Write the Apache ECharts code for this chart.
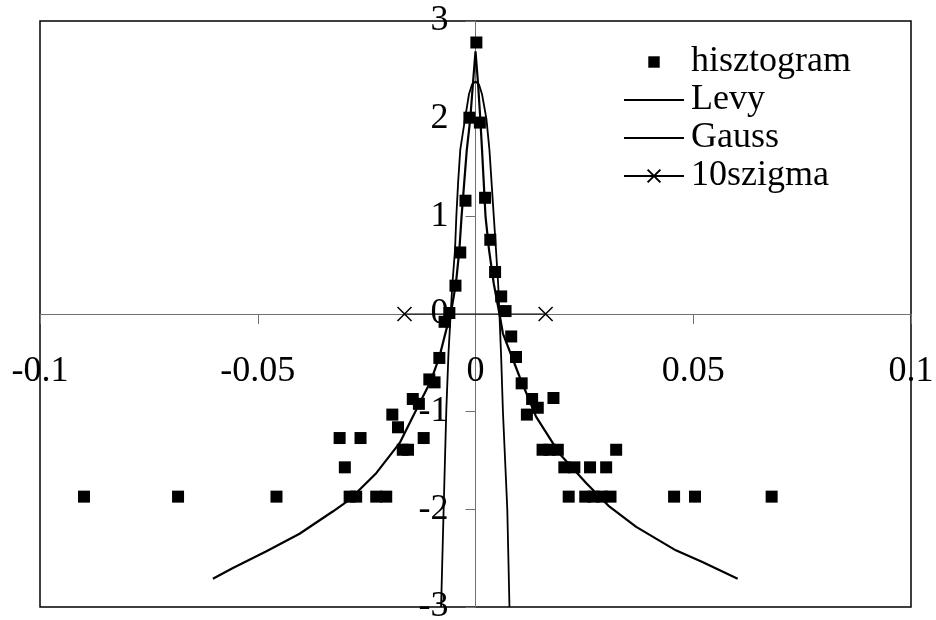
<!DOCTYPE html>
<html>
<head>
<meta charset="utf-8">
<script src="https://cdn.jsdelivr.net/npm/echarts@6/dist/echarts.min.js"></script>
<style>
  html, body { margin: 0; padding: 0; background: #fff; }
  #chart { width: 936px; height: 620px; }
</style>
</head>
<body>
<div id="chart"></div>
<script>
// Axis ticks and their labels
const xTickValues = [-0.1, -0.05, 0, 0.05, 0.1];
const xTickLabels = ['-0.1', '-0.05', '0', '0.05', '0.1'];
const yTickValues = [-3, -2, -1, 0, 1, 2, 3];
const yTickLabels = ['-3', '-2', '-1', '0', '1', '2', '3'];

// Series names
const seriesNames = ['hisztogram', 'Levy', 'Gauss', '10szigma'];

// Histogram points (log scale)
const histX = [
  0.0002, -0.0014, 0.0010, -0.0023, 0.0022, -0.0035, 0.0034, -0.0046, 0.0045,
  -0.0060, 0.0059, -0.0071, 0.0069, 0.0082, 0.0093, 0.0106,
  -0.0083, -0.0106, -0.0094, -0.0144, -0.0130, -0.0191, -0.0178, -0.0119,
  -0.0312, -0.0264, -0.0167, -0.0155, -0.0300,
  -0.0899, -0.0683, -0.0457, -0.0289, -0.0274, -0.0228, -0.0205,
  0.0130, 0.0179, 0.0143, 0.0118, 0.0154, 0.0170, 0.0189, 0.0323,
  0.0204, 0.0227, 0.0263, 0.0300,
  0.0214, 0.0252, 0.0271, 0.0290, 0.0310, 0.0456, 0.0504, 0.0680
];
const histY = [
  2.78, 2.01, 1.96, 1.16, 1.19, 0.63, 0.76, 0.29, 0.43,
  0.01, 0.18, -0.08, 0.03, -0.23, -0.44, -0.71,
  -0.45, -0.67, -0.70, -0.87, -0.92, -1.03, -1.16, -1.27,
  -1.27, -1.27, -1.39, -1.39, -1.57,
  -1.87, -1.87, -1.87, -1.87, -1.87, -1.87, -1.87,
  -0.87, -0.86, -0.96, -1.03, -1.39, -1.39, -1.39, -1.39,
  -1.57, -1.57, -1.57, -1.57,
  -1.87, -1.87, -1.87, -1.87, -1.87, -1.87, -1.87, -1.87
];

// Levy curve
const levyX = [
  -0.0603, -0.0557, -0.0480, -0.0404, -0.0327, -0.0289, -0.0228, -0.0174,
  -0.0136, -0.0102, -0.0083, -0.0067, -0.0057, -0.0045, -0.0037, -0.0032,
  -0.0026, -0.0020, -0.0012, -0.0006, 0,
  0.0006, 0.0011, 0.0015, 0.0019, 0.0023, 0.0031, 0.0042, 0.0055,
  0.0063, 0.0101, 0.0139, 0.0193, 0.0254, 0.0307, 0.0369, 0.0460, 0.0521, 0.0602
];
const levyY = [
  -2.71, -2.60, -2.43, -2.25, -2.02, -1.90, -1.63, -1.32,
  -0.98, -0.68, -0.44, -0.16, 0.00, 0.31, 0.66, 1.00,
  1.34, 1.68, 2.00, 2.35, 2.69,
  2.35, 2.00, 1.68, 1.34, 1.00, 0.66, 0.31, 0.00,
  -0.20, -0.64, -1.05, -1.43, -1.73, -1.97, -2.18, -2.42, -2.54, -2.71
];

// Gauss curve
const gaussX = [
  -0.0079, -0.0073, -0.0067, -0.0062, -0.0057, -0.0053, -0.0047, -0.0044,
  -0.0040, -0.0035, -0.0024, -0.0015, -0.0008, 0,
  0.0008, 0.0015, 0.0025, 0.0032, 0.0037, 0.0042, 0.0047, 0.0052, 0.0055,
  0.0059, 0.0063, 0.0068, 0.0073, 0.0078
];
const gaussY = [
  -3.00, -1.97, -0.98, -0.40, 0.00, 0.31, 0.66, 1.00,
  1.34, 1.68, 2.00, 2.25, 2.35, 2.38,
  2.35, 2.25, 2.00, 1.68, 1.34, 1.00, 0.66, 0.31, 0.00,
  -0.45, -1.00, -1.50, -2.00, -3.00
];

// 10 sigma markers
const sigmaX = [-0.0163, 0.0161];
const sigmaY = [0, 0];

const pairs = (xs, ys) => xs.map((x, i) => [x, ys[i]]);

const FONT = '"Liberation Serif", "DejaVu Serif", serif';
const crossSymbol = 'path://M0,0L10,10M10,0L0,10';
// square legend icon with a little empty margin around it
const squareIcon = 'path://M-2,-2M12,12M0,0h10v10h-10z';

// Plot box, in pixels; axes cross at its centre (x = 0, y = 0)
const GRID = { left: 40, right: 25, top: 21, bottom: 13 };
const W = 936, H = 620;
const plotW = W - GRID.left - GRID.right;
const plotH = H - GRID.top - GRID.bottom;

const hiddenSymbol = { color: 'rgba(0,0,0,0)', borderColor: 'rgba(0,0,0,0)', borderWidth: 0 };

const chart = echarts.init(document.getElementById('chart'), null, { renderer: 'canvas' });

chart.setOption({
  backgroundColor: '#ffffff',
  animation: false,
  textStyle: { fontFamily: FONT, color: '#000' },
  grid: Object.assign({
    show: true,
    borderColor: '#000',
    borderWidth: 1.5,
    containLabel: false,
    outerBoundsMode: 'none'
  }, GRID),
  legend: {
    orient: 'vertical',
    left: 623,
    top: 44,
    padding: 0,
    itemGap: 2,
    itemWidth: 60,
    itemHeight: 16,
    symbolKeepAspect: true,
    textStyle: { fontFamily: FONT, fontSize: 36, color: '#000', lineHeight: 36, padding: [0, 0, 0, 2] },
    data: [
      { name: seriesNames[0], icon: squareIcon },
      { name: seriesNames[1], itemStyle: hiddenSymbol },
      { name: seriesNames[2], itemStyle: hiddenSymbol },
      { name: seriesNames[3] }
    ]
  },
  xAxis: {
    type: 'value',
    position: 'bottom',
    offset: -plotH / 2,
    min: xTickValues[0],
    max: xTickValues[xTickValues.length - 1],
    interval: 0.05,
    axisLine: { onZero: false, lineStyle: { color: '#707070', width: 1 } },
    axisTick: { show: true, length: 10, lineStyle: { color: '#707070', width: 1 } },
    splitLine: { show: false },
    axisLabel: {
      fontFamily: FONT,
      fontSize: 36,
      color: '#000',
      margin: 40,
      showMinLabel: true,
      showMaxLabel: true,
      hideOverlap: false,
      formatter: (v) => {
        const i = xTickValues.findIndex(t => Math.abs(t - v) < 1e-9);
        return i >= 0 ? xTickLabels[i] : '';
      }
    }
  },
  yAxis: {
    type: 'value',
    position: 'left',
    offset: -plotW / 2,
    min: yTickValues[0],
    max: yTickValues[yTickValues.length - 1],
    interval: 1,
    axisLine: { onZero: false, lineStyle: { color: '#707070', width: 1 } },
    axisTick: { show: true, length: 10, lineStyle: { color: '#707070', width: 1 } },
    splitLine: { show: false },
    axisLabel: {
      fontFamily: FONT,
      fontSize: 36,
      color: '#000',
      margin: 27,
      showMinLabel: true,
      showMaxLabel: true,
      hideOverlap: false,
      formatter: (v) => {
        const i = yTickValues.findIndex(t => Math.abs(t - v) < 1e-9);
        return i >= 0 ? yTickLabels[i] : '';
      }
    }
  },
  series: [
    {
      name: seriesNames[0],
      type: 'scatter',
      symbol: 'rect',
      symbolSize: 12,
      itemStyle: { color: '#000', opacity: 1 },
      z: 3,
      data: pairs(histX, histY)
    },
    {
      name: seriesNames[1],
      type: 'line',
      symbol: 'none',
      lineStyle: { color: '#000', width: 2.2 },
      itemStyle: { color: '#000' },
      z: 2,
      data: pairs(levyX, levyY)
    },
    {
      name: seriesNames[2],
      type: 'line',
      symbol: 'none',
      lineStyle: { color: '#000', width: 1.8 },
      itemStyle: { color: '#000' },
      z: 2,
      data: pairs(gaussX, gaussY)
    },
    {
      name: seriesNames[3],
      type: 'line',
      symbol: crossSymbol,
      symbolSize: 14,
      lineStyle: { color: '#000', width: 1 },
      itemStyle: { color: '#000', borderColor: '#000', borderWidth: 1.5 },
      z: 4,
      data: pairs(sigmaX, sigmaY)
    }
  ]
});
</script>
</body>
</html>
